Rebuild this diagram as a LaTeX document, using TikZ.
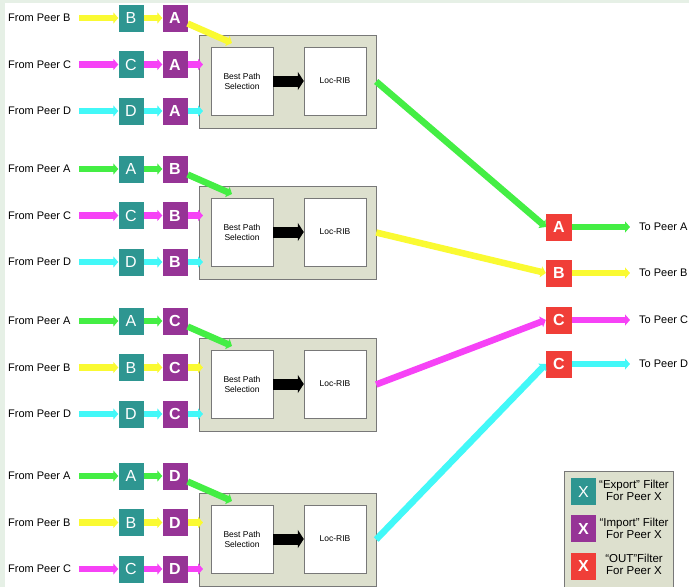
\documentclass[tikz,border=0pt]{standalone}
\usepackage{fontspec}
\setmainfont{Liberation Sans}
\usepackage{tikz}
\usetikzlibrary{arrows.meta}
\definecolor{pgreen}{RGB}{68,238,68}
\definecolor{pyellow}{RGB}{250,250,50}
\definecolor{pmagenta}{RGB}{246,66,246}
\definecolor{pcyan}{RGB}{66,248,248}
\definecolor{expcol}{RGB}{46,150,145}
\definecolor{impcol}{RGB}{150,52,150}
\definecolor{outcol}{RGB}{240,62,56}
\definecolor{grpcol}{RGB}{221,224,206}
\definecolor{grpline}{RGB}{120,120,120}
\definecolor{bgcol}{RGB}{230,240,230}

\tikzset{
  lbl/.style={font=\fontsize{11}{13}\selectfont, inner sep=0pt},
  fbox/.style={minimum width=25pt, minimum height=27pt, inner sep=0pt, text=white,
    font=\fontsize{16}{16}\selectfont},
  expbox/.style={fbox, fill=expcol},
  impbox/.style={fbox, fill=impcol, font=\fontsize{16}{16}\selectfont\bfseries},
  outbox/.style={fbox, fill=outcol, minimum width=26pt, font=\fontsize{16}{16}\selectfont\bfseries},
  grp/.style={draw=grpline, fill=grpcol, minimum width=177pt, minimum height=93pt, inner sep=0pt},
  wbox/.style={draw=grpline, fill=white, minimum width=62pt, minimum height=68pt, inner sep=0pt,
    align=center, font=\fontsize{8.5}{10}\selectfont},
  flow/.style={draw=#1, line width=6.5pt, -{Triangle[width=11pt,length=5pt]}},
  bigarrow/.style={draw=black, line width=11pt, -{Triangle[width=18pt,length=6pt]}},
  legtxt/.style={align=center, inner sep=0pt, font=\fontsize{11.5}{12}\selectfont}
}

\begin{document}
\begin{tikzpicture}[x=1pt,y=-1pt]
  \useasboundingbox (0,0) rectangle (689,587);
  \fill[bgcol] (0,0) rectangle (689,587);
  \fill[white] (5,3) rectangle (689,587);
  %
  % one group per peer: import filter, best path selection, Loc-RIB
  \foreach \g/\yo/\imp/\pa/\ca/\pb/\cb/\pc/\cc in
    {1/18/A/B/pyellow/C/pmagenta/D/pcyan,
     2/169/B/A/pgreen/C/pmagenta/D/pcyan,
     3/321/C/A/pgreen/B/pyellow/D/pcyan,
     4/476/D/A/pgreen/B/pyellow/C/pmagenta}{
    \node[grp] (g\g) at (287.5,\yo+63.5) {};
    \node[wbox] (bps\g) at (242,\yo+63) {Best Path\\Selection};
    \node[wbox] (rib\g) at (335,\yo+63) {Loc-RIB};
    \draw[bigarrow] (bps\g) -- (rib\g);
    \foreach \r/\p/\c in {1/\pa/\ca, 2/\pb/\cb, 3/\pc/\cc}{
      \pgfmathsetmacro\ry{\yo+(\r-1)*46.5}
      \node[lbl,anchor=west] (src\g\r) at (8,\ry) {From Peer \p};
      \node[expbox] (exp\g\r) at (131,\ry) {\p};
      \node[impbox] (imp\g\r) at (175,\ry) {\imp};
      \coordinate (s\g\r) at (79,\ry);
      \ifnum\r=1
        \coordinate (in\g\r) at (232,\yo+25);
      \else
        \coordinate (in\g\r) at (203,\ry);
      \fi
      \draw[flow=\c] (s\g\r) -- (exp\g\r);
      \draw[flow=\c] (exp\g\r) -- (imp\g\r);
      \draw[flow=\c] (imp\g\r) -- (in\g\r);
    }
  }
  %
  % OUT filters
  \foreach \n/\l/\y/\c in {A/A/227/pgreen, B/B/273/pyellow, C/C/320/pmagenta, D/C/364/pcyan}{
    \node[outbox] (out\n) at (559,\y) {\l};
    \node[lbl,anchor=west] (to\n) at (639,\y) {To Peer \n};
    \coordinate (e\n) at (630,\y);
    \draw[flow=\c] (out\n) -- (e\n);
  }
  \draw[flow=pgreen] (g1.east) -- (outA.west);
  \draw[flow=pyellow] (g2.east) -- (outB.west);
  \draw[flow=pmagenta] (g3.east) -- (outC.west);
  \draw[flow=pcyan] (g4.east) -- (outD.west);
  %
  % legend
  \draw[draw=grpline, fill=grpcol] (564,471) rectangle (673,595);
  \node[expbox, font=\fontsize{16}{16}\selectfont] (kexp) at (583.5,491.5) {X};
  \node[impbox] (kimp) at (583.5,528.5) {X};
  \node[outbox, minimum width=25pt] (kout) at (583.5,566) {X};
  \node[legtxt] (kexpt) at (634,490) {“Export” Filter\\For Peer X};
  \node[legtxt] (kimpt) at (634,528) {“Import” Filter\\For Peer X};
  \node[legtxt] (koutt) at (634,564) {“OUT”Filter\\For Peer X};
\end{tikzpicture}
\end{document}
